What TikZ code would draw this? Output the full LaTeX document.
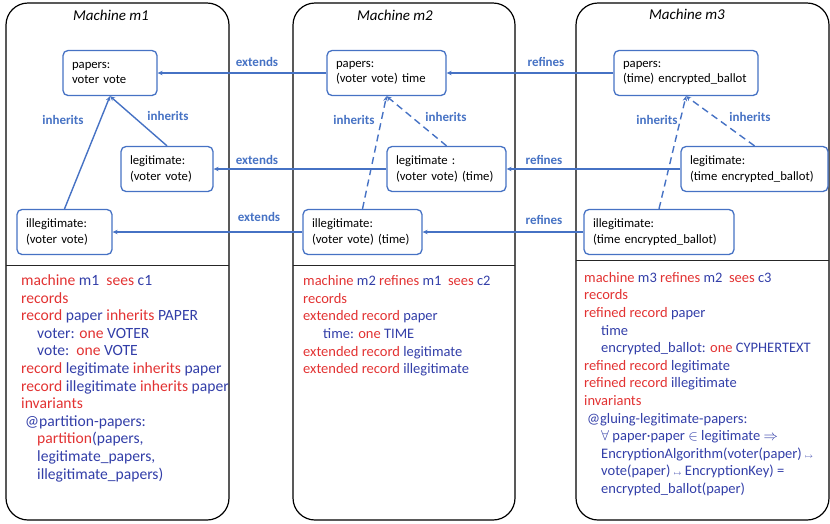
\documentclass[tikz,border=0pt]{standalone}
\usepackage{fontspec}
\setmainfont{Carlito}
\usetikzlibrary{arrows.meta}
\definecolor{kwred}{RGB}{226,50,50}
\definecolor{idblue}{RGB}{50,62,168}
\definecolor{linkblue}{RGB}{70,114,196}
\newcommand{\kwd}[1]{\textcolor{kwred}{#1}}
\newcommand{\idn}[1]{\textcolor{idblue}{#1}}
\newcommand{\mapl}{{\scriptsize$\mapsto$}}
\tikzset{
  panel/.style={draw=black, line width=1.2pt, rounded corners=22pt},
  divider/.style={draw=black!85, line width=0.9pt},
  mtitle/.style={font=\itshape\fontsize{15}{17}\selectfont, inner sep=0pt},
  code/.style={align=left, anchor=north west, inner sep=0pt,
    font=\fontsize{14.5}{17.6}\selectfont},
  bigcode/.style={code, font=\fontsize{15.6}{17.6}\selectfont},
  rec/.style={draw=linkblue, line width=1.3pt, rounded corners=5pt, fill=white,
    align=left, text width=#1, minimum height=45pt, inner xsep=9pt,
    font=\fontsize{12.7}{15.3}\selectfont},
  lbl/.style={text=linkblue, inner sep=0pt, font=\bfseries\fontsize{13}{15}\selectfont},
  conn/.style={draw=linkblue, line width=1.4pt, -{Stealth[length=5pt,width=4.5pt]}},
  dconn/.style={conn, dash pattern=on 7pt off 4.5pt}
}
\begin{document}
\begin{tikzpicture}[x=1pt,y=-1pt]
\useasboundingbox (0,0) rectangle (830,523);

% machine panels
\draw[panel] (6,3) rectangle (229,520);
\draw[panel] (293,3) rectangle (515,520);
\draw[panel] (576,3) rectangle (829,520);
\draw[divider] (6,265) -- (229,265);
\draw[divider] (293,265) -- (515,265);
\draw[divider] (576,260) -- (829,260);

\node[mtitle] (t1) at (111,15) {Machine m1};
\node[mtitle] (t2) at (395,15) {Machine m2};
\node[mtitle] (t3) at (687,14) {Machine m3};

% record nodes
\node[rec=76pt]  (m1p) at (110,73)   {papers:\\voter vote};
\node[rec=74pt]  (m1l) at (167,169)  {legitimate:\\(voter vote)};
\node[rec=77pt]  (m1i) at (64.5,232) {illegitimate:\\(voter vote)};

\node[rec=101pt] (m2p) at (386.5,73) {papers:\\(voter vote) time};
\node[rec=101pt] (m2l) at (446.5,169) {legitimate :\\(voter vote) (time)};
\node[rec=101pt] (m2i) at (362.5,232) {illegitimate:\\(voter vote) (time)};

\node[rec=126pt] (m3p) at (686,73)   {papers:\\(time) encrypted\_ballot};
\node[rec=129pt] (m3l) at (754.5,169) {legitimate:\\(time encrypted\_ballot)};
\node[rec=132pt] (m3i) at (659,232)  {illegitimate:\\(time encrypted\_ballot)};

% extends / refines links
\draw[conn] (m2p.west) -- (m1p.east);
\draw[conn] (m2l.west) -- (m1l.east);
\draw[conn] (m2i.west) -- (m1i.east);
\draw[conn] (m3p.west) -- (m2p.east);
\draw[conn] (m3l.west) -- (m2l.east);
\draw[conn] (m3i.west) -- (m2i.east);

\node[lbl] (e1) at (257,62)  {extends};
\node[lbl] (e2) at (257,160) {extends};
\node[lbl] (e3) at (259,217) {extends};
\node[lbl] (r1) at (546,62)  {refines};
\node[lbl] (r2) at (544,160) {refines};
\node[lbl] (r3) at (544,220) {refines};

% inheritance links
\draw[conn]  (m1l.north) -- (m1p.south);
\draw[conn]  (m1i.north) -- (m1p.south);
\draw[dconn] (m2l.north) -- (m2p.south);
\draw[dconn] (m2i.north) -- (m2p.south);
\draw[dconn] (m3l.north) -- (m3p.south);
\draw[dconn] (m3i.north) -- (m3p.south);

\node[lbl] (i1a) at (63,120)  {inherits};
\node[lbl] (i1b) at (168,116) {inherits};
\node[lbl] (i2a) at (354,120) {inherits};
\node[lbl] (i2b) at (446,117) {inherits};
\node[lbl] (i3a) at (657,120) {inherits};
\node[lbl] (i3b) at (750,117) {inherits};

% machine texts
\node[bigcode] (c1) at (21,274.5) {%
\kwd{machine} \idn{m1}\ \ \kwd{sees} \idn{c1}\\
\kwd{records}\\
\kwd{record} \idn{paper} \kwd{inherits} \idn{PAPER}\\
\hspace*{16pt}\idn{voter:} \kwd{one} \idn{VOTER}\\
\hspace*{16pt}\idn{vote:}\ \ \kwd{one} \idn{VOTE}\\
\kwd{record} \idn{legitimate} \kwd{inherits} \idn{paper}\\
\kwd{record} \idn{illegitimate} \kwd{inherits} \idn{paper}\\
\kwd{invariants}\\
\hspace*{4pt}\idn{@partition-papers:}\\
\hspace*{16pt}\kwd{partition}\idn{(papers,}\\
\hspace*{16pt}\idn{legitimate\_papers,}\\
\hspace*{16pt}\idn{illegitimate\_papers)}};

\node[code] (c2) at (303,275.5) {%
\kwd{machine} \idn{m2} \kwd{refines} \idn{m1}\ \ \kwd{sees} \idn{c2}\\
\kwd{records}\\
\kwd{extended record} \idn{paper}\\
\hspace*{20pt}\idn{time:} \kwd{one} \idn{TIME}\\
\kwd{extended record} \idn{legitimate}\\
\kwd{extended record} \idn{illegitimate}};

\node[code] (c3) at (584,272) {%
\kwd{machine} \idn{m3} \kwd{refines} \idn{m2}\ \ \kwd{sees} \idn{c3}\\
\kwd{records}\\
\kwd{refined record} \idn{paper}\\
\hspace*{17pt}\idn{time}\\
\hspace*{17pt}\idn{encrypted\_ballot:} \kwd{one} \idn{CYPHERTEXT}\\
\kwd{refined record} \idn{legitimate}\\
\kwd{refined record} \idn{illegitimate}\\
\kwd{invariants}\\
\hspace*{3pt}\idn{@gluing-legitimate-papers:}\\
\hspace*{17pt}\textcolor{idblue}{$\forall$ paper·paper $\in$ legitimate $\Rightarrow$}\\
\hspace*{17pt}\idn{EncryptionAlgorithm(voter(paper)\ \mapl}\\
\hspace*{17pt}\idn{vote(paper) \mapl\ EncryptionKey) =}\\
\hspace*{17pt}\idn{encrypted\_ballot(paper)}};
\end{tikzpicture}
\end{document}
